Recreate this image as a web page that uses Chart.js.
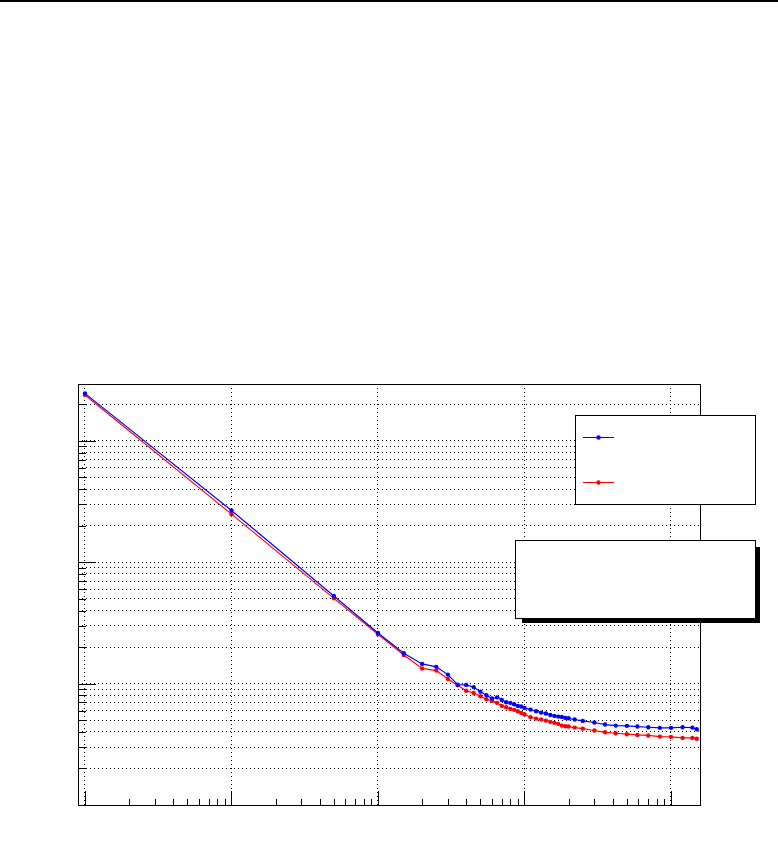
<!DOCTYPE html>
<html>
<head>
<meta charset="utf-8">
<script src="https://cdn.jsdelivr.net/npm/chart.js@4/dist/chart.umd.min.js"></script>
<style>
  html, body { margin: 0; padding: 0; background: #fff; }
  #plot { display: block; }
</style>
</head>
<body>
<canvas id="plot" width="778" height="858"></canvas>
<script>
// values (log-log)
const xValues = [1, 10, 50,
  100, 150, 200, 250, 300, 350, 400, 450, 500, 550, 600, 650, 700, 750, 800, 850, 900, 950, 1000,
  1100, 1200, 1300, 1400, 1500, 1600, 1700, 1800, 1900, 2000,
  2200, 2500, 3000, 3550, 4200, 5000, 5900, 7000, 8400, 10000, 12000, 14000, 15000];
const blueValues = [2.46, 0.267, 0.0527,
  0.0261, 0.0178, 0.01453, 0.01374, 0.01186, 0.00981, 0.00976, 0.00936, 0.00859, 0.00801, 0.00753,
  0.00771, 0.00734, 0.00702, 0.00694, 0.00676, 0.00655, 0.00647, 0.00631,
  0.00611, 0.00592, 0.00577, 0.00567, 0.00552, 0.00542, 0.00535, 0.00532, 0.00522, 0.00518,
  0.00506, 0.00493, 0.00478, 0.00460, 0.00451, 0.00449, 0.00443, 0.00437, 0.00432, 0.00432,
  0.00437, 0.00434, 0.00421];
const redValues = [2.39, 0.249, 0.0504,
  0.0255, 0.0172, 0.01333, 0.0128, 0.01094, 0.00969, 0.00873, 0.00838, 0.00786, 0.00743, 0.00721,
  0.00694, 0.00655, 0.00638, 0.00619, 0.00608, 0.00592, 0.00574, 0.00559,
  0.00528, 0.00515, 0.00506, 0.00496, 0.00484, 0.00475, 0.00466, 0.00451, 0.00445, 0.00443,
  0.00434, 0.00426, 0.00411, 0.00397, 0.00390, 0.00383, 0.00378, 0.00374, 0.00366, 0.00364,
  0.00357, 0.00357, 0.00351];

const xDecades = [1, 10, 100, 1000, 10000];
const yDecades = [0.001, 0.01, 0.1, 1];
const minorSteps = [2, 3, 4, 5, 6, 7, 8, 9];
const xRange = [0.896, 15780];
const yRange = [0.001, 2.94];

const BLUE = '#0000ff';
const RED = '#ff0000';

function withMinors(decades, lo, hi) {
  const out = [];
  decades.forEach(d => {
    out.push({ value: d, major: true });
    minorSteps.forEach(m => out.push({ value: d * m, major: false }));
  });
  return out.filter(t => t.value >= lo && t.value <= hi);
}

const xTicks = withMinors(xDecades, xRange[0], xRange[1]);
const yTicks = withMinors(yDecades, yRange[0], yRange[1]);

function pts(ys) { return xValues.map((x, i) => ({ x: x, y: ys[i] })); }

const decor = {
  id: 'decor',
  afterDatasetsDraw(chart) {
    const { ctx, chartArea: a, scales: { x, y } } = chart;
    ctx.save();
    ctx.strokeStyle = '#000';
    ctx.lineWidth = 1;
    ctx.beginPath();
    xTicks.forEach(t => {
      const px = Math.round(x.getPixelForValue(t.value)) + 0.5;
      const len = t.major ? 14 : 6;
      ctx.moveTo(px, a.bottom);
      ctx.lineTo(px, a.bottom - len);
    });
    yTicks.forEach(t => {
      const py = Math.round(y.getPixelForValue(t.value)) + 0.5;
      const len = t.major ? 18 : 8;
      ctx.moveTo(a.left, py);
      ctx.lineTo(a.left + len, py);
    });
    ctx.stroke();
    ctx.strokeRect(Math.round(a.left) + 0.5, Math.round(a.top) + 0.5,
      Math.round(a.right - a.left), Math.round(a.bottom - a.top));
    ctx.restore();
  },
  afterDraw(chart) {
    const ctx = chart.ctx;
    ctx.save();
    // top border line
    ctx.fillStyle = '#000';
    ctx.fillRect(0, 0, 778, 2);

    // legend box
    ctx.fillStyle = '#fff';
    ctx.fillRect(575, 415, 180, 89);
    ctx.strokeStyle = '#000';
    ctx.lineWidth = 1;
    ctx.strokeRect(575.5, 415.5, 180, 89);
    [[BLUE, 437.5], [RED, 482.5]].forEach(([c, ly]) => {
      ctx.strokeStyle = c;
      ctx.beginPath();
      ctx.moveTo(583, ly);
      ctx.lineTo(614, ly);
      ctx.stroke();
      ctx.fillStyle = c;
      ctx.beginPath();
      ctx.arc(598.5, ly, 2.2, 0, Math.PI * 2);
      ctx.fill();
    });

    // stats box with shadow
    ctx.fillStyle = '#000';
    ctx.fillRect(522, 547, 238, 76);
    ctx.fillStyle = '#fff';
    ctx.fillRect(515, 540, 240, 78);
    ctx.strokeStyle = '#000';
    ctx.strokeRect(515.5, 540.5, 240, 78);
    ctx.restore();
  }
};

new Chart(document.getElementById('plot'), {
  type: 'line',
  data: {
    datasets: [
      {
        data: pts(blueValues),
        borderColor: BLUE,
        backgroundColor: BLUE,
        borderWidth: 1.2,
        pointRadius: 2.2,
        pointHoverRadius: 2.2,
        pointBorderWidth: 0,
        tension: 0
      },
      {
        data: pts(redValues),
        borderColor: RED,
        backgroundColor: RED,
        borderWidth: 1.2,
        pointRadius: 2.2,
        pointHoverRadius: 2.2,
        pointBorderWidth: 0,
        tension: 0
      }
    ]
  },
  options: {
    responsive: false,
    animation: false,
    devicePixelRatio: 1,
    layout: { padding: { left: 78, right: 78, top: 384, bottom: 53 } },
    plugins: { legend: { display: false }, tooltip: { enabled: false } },
    scales: {
      x: {
        type: 'logarithmic',
        min: xRange[0],
        max: xRange[1],
        afterBuildTicks: s => { s.ticks = xTicks.map(t => ({ value: t.value, major: t.major })); },
        ticks: { display: false },
        border: { display: false },
        grid: {
          drawTicks: false,
          color: c => (c.tick && c.tick.major ? '#000' : 'rgba(0,0,0,0)'),
          lineWidth: 1,
          tickBorderDash: [1, 3]
        },
        border: { display: false, dash: [1, 3] }
      },
      y: {
        type: 'logarithmic',
        min: yRange[0],
        max: yRange[1],
        afterBuildTicks: s => { s.ticks = yTicks.map(t => ({ value: t.value, major: t.major })); },
        ticks: { display: false },
        grid: {
          drawTicks: false,
          color: '#000',
          lineWidth: 1
        },
        border: { display: false, dash: [1, 3] }
      }
    }
  },
  plugins: [decor]
});
</script>
</body>
</html>
